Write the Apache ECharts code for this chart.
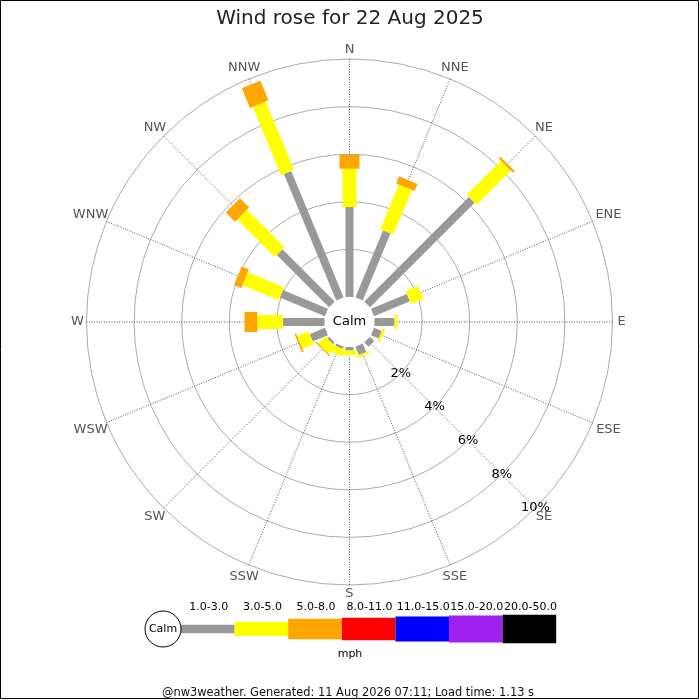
<!DOCTYPE html>
<html>
<head>
<meta charset="utf-8">
<script src="https://cdn.jsdelivr.net/npm/echarts@6/dist/echarts.min.js"></script>
<style>
html,body{margin:0;padding:0;background:#fff;}
#chart{width:700px;height:700px;}
</style>
</head>
<body>
<div id="chart"></div>
<script>
// ---- data ----
const directions = ['N','NNE','NE','ENE','E','ESE','SE','SSE','S','SSW','SW','WSW','W','WNW','NW','NNW'];
const speedBins = ['1.0-3.0','3.0-5.0','5.0-8.0','8.0-11.0','11.0-15.0','15.0-20.0','20.0-50.0'];
// percentage of time per direction for each speed bin (mph)
const pct_1_3   = [3.78, 3.05, 6.21, 1.63, 0.84, 0.35, 0.25, 0.38, 0.15, 0.10, 0.10, 0.69, 1.75, 2.05, 3.10, 5.75];
const pct_3_5   = [1.61, 2.03, 2.03, 0.56, 0.12, 0.10, 0.00, 0.10, 0.20, 0.30, 0.42, 0.52, 1.07, 1.65, 2.23, 3.11];
const pct_5_8   = [0.58, 0.32, 0.10, 0.00, 0.00, 0.00, 0.00, 0.00, 0.00, 0.00, 0.05, 0.07, 0.54, 0.33, 0.55, 0.89];
const pct_8_11  = [0,0,0,0,0,0,0,0,0,0,0,0,0,0,0,0];
const pct_11_15 = [0,0,0,0,0,0,0,0,0,0,0,0,0,0,0,0];
const pct_15_20 = [0,0,0,0,0,0,0,0,0,0,0,0,0,0,0,0];
const pct_20_50 = [0,0,0,0,0,0,0,0,0,0,0,0,0,0,0,0];
const radiusTicks = [2, 4, 6, 8, 10];

// ---- styles ----
const binColors = ['#999999','#ffff00','#ffa500','#ff0000','#0000ff','#a020f0','#000000'];
const barWidths = [8, 14, 20, 23, 25, 27, 29];
const FONT = 'DejaVu Sans';
const CX = 349.5, CY = 322;
const RMAX = radiusTicks[radiusTicks.length - 1];

const allBins = [pct_1_3, pct_3_5, pct_5_8, pct_8_11, pct_11_15, pct_15_20, pct_20_50];

// compass degrees -> angle-axis value (axis starts at SE so the % labels lie along SE)
function compassToAxis(deg){ return ((deg - 135) % 360 + 360) % 360; }

const cumulative = directions.map(() => 0);
const series = allBins.map((vals, k) => {
  const data = directions.map((d, i) => {
    const start = cumulative[i];
    const end = start + vals[i];
    cumulative[i] = end;
    return [end, compassToAxis(i * 22.5), start];
  });
  const color = binColors[k], w = barWidths[k];
  return {
    type: 'custom',
    name: speedBins[k],
    coordinateSystem: 'polar',
    silent: true,
    data: data,
    renderItem: function (params, api) {
      const r1 = api.value(0), a = api.value(1), r0 = api.value(2);
      if (!(r1 > r0)) return null;
      const p0 = api.coord([r0, a]);
      const p1 = api.coord([r1, a]);
      const dx = p1[0] - p0[0], dy = p1[1] - p0[1];
      const len = Math.hypot(dx, dy) || 1;
      const nx = -dy / len * w / 2, ny = dx / len * w / 2;
      return {
        type: 'polygon',
        shape: { points: [[p0[0]+nx, p0[1]+ny], [p1[0]+nx, p1[1]+ny], [p1[0]-nx, p1[1]-ny], [p0[0]-nx, p0[1]-ny]] },
        style: { fill: color }
      };
    }
  };
});

// compass direction labels just outside the outer ring
series.push({
  type: 'custom',
  name: 'directions',
  coordinateSystem: 'polar',
  silent: true,
  data: directions.map((d, i) => [RMAX, compassToAxis(i * 22.5), i]),
  renderItem: function (params, api) {
    const a = api.value(1), idx = api.value(2);
    const name = directions[idx];
    const p = api.coord([api.value(0), a]);
    const ux0 = p[0] - CX, uy0 = p[1] - CY;
    const L = Math.hypot(ux0, uy0) || 1;
    const ux = ux0 / L, uy = uy0 / L;
    const off = 9 + Math.abs(ux) * Math.max(0, name.length - 1) * 4.5;
    return {
      type: 'text',
      x: p[0] + ux * off, y: p[1] + uy * off,
      style: { text: name, fill: '#555', font: '13px "' + FONT + '"', textAlign: 'center', textVerticalAlign: 'middle' }
    };
  }
});

// legend graphics
const legendX0 = 181, legendStep = 53.6, legendCY = 629;
const legendHeights = [8.7, 14, 20.3, 22.7, 25, 27, 28.7];
const graphics = [
  { type: 'rect', shape: { x: 0.5, y: 0.5, width: 698, height: 698 }, style: { fill: 'none', stroke: '#000', lineWidth: 1 }, z: 100 },
  { type: 'text', x: CX, y: CY, style: { text: 'Calm', fill: '#000', font: '13px "' + FONT + '"', textAlign: 'center', textVerticalAlign: 'middle' }, z: 100 },
  { type: 'circle', shape: { cx: 163, cy: legendCY, r: 18 }, style: { fill: '#fff', stroke: '#000', lineWidth: 1 }, z: 100 },
  { type: 'text', x: 163, y: legendCY, style: { text: 'Calm', fill: '#000', font: '11px "' + FONT + '"', textAlign: 'center', textVerticalAlign: 'middle' }, z: 101 },
  { type: 'text', x: 350, y: 654, style: { text: 'mph', fill: '#000', font: '11px "' + FONT + '"', textAlign: 'center', textVerticalAlign: 'middle' }, z: 100 },
  { type: 'text', x: 348, y: 693, style: { text: '@nw3weather. Generated: 11 Aug 2026 07:11; Load time: 1.13 s', fill: '#111', font: '11.4px "' + FONT + '"', textAlign: 'center', textVerticalAlign: 'middle' }, z: 100 }
];
speedBins.forEach((b, k) => {
  const x = legendX0 + k * legendStep;
  const h = legendHeights[k];
  graphics.push({ type: 'rect', shape: { x: x, y: legendCY - h / 2, width: legendStep, height: h }, style: { fill: binColors[k] }, z: 99 });
  graphics.push({ type: 'text', x: x + legendStep / 2 + 1, y: 607, style: { text: b, fill: '#000', font: '11px "' + FONT + '"', textAlign: 'center', textVerticalAlign: 'middle' }, z: 100 });
});

const chart = echarts.init(document.getElementById('chart'), null, { renderer: 'canvas' });
chart.setOption({
  backgroundColor: '#fff',
  animation: false,
  textStyle: { fontFamily: FONT },
  title: {
    text: 'Wind rose for 22 Aug 2025',
    left: 'center', top: 4,
    textStyle: { fontFamily: FONT, fontSize: 20, fontWeight: 'normal', color: '#222' }
  },
  polar: { center: [CX, CY], radius: [25, 263] },
  angleAxis: {
    type: 'value', min: 0, max: 360, interval: 22.5,
    startAngle: -45, clockwise: true,
    axisLine: { show: false },
    axisTick: { show: false },
    axisLabel: { show: false },
    splitLine: { show: true, lineStyle: { type: [1, 1.5], color: '#555', width: 1 } }
  },
  radiusAxis: {
    type: 'value', min: 0, max: RMAX, interval: radiusTicks[0],
    axisLine: { show: false },
    axisTick: { show: false },
    axisLabel: {
      margin: 0, align: 'center', verticalAlign: 'middle', color: '#000', fontSize: 13, fontFamily: FONT,
      formatter: v => (radiusTicks.indexOf(v) >= 0 ? v + '%' : '')
    },
    splitLine: { show: true, lineStyle: { color: ['rgba(0,0,0,0)', '#aaa', '#aaa', '#aaa', '#aaa', '#aaa'], width: 1 } }
  },
  series: series,
  graphic: graphics
});
</script>
</body>
</html>
